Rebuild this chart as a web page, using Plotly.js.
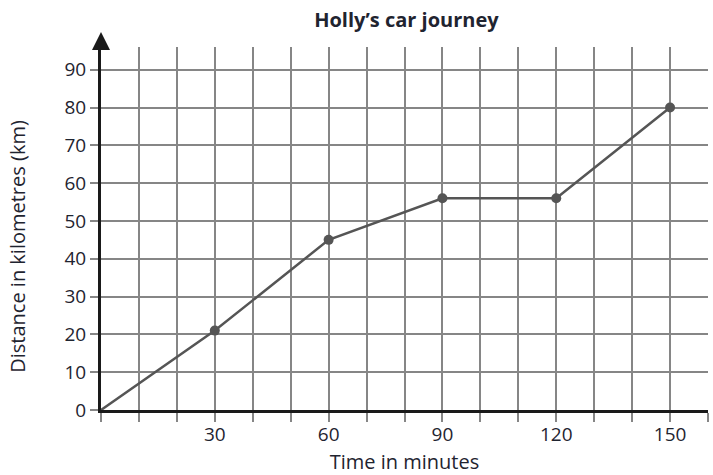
<!DOCTYPE html>
<html>
<head>
<meta charset="utf-8">
<script src="https://cdn.plot.ly/plotly-3.0.1.min.js"></script>
<style>html,body{margin:0;padding:0;background:#fff;}#chart{width:713px;height:475px;}</style>
</head>
<body>
<div id="chart"></div>
<script>
const timeMinutes = [0, 30, 60, 90, 120, 150];
const distanceKm = [0, 21, 45, 56, 56, 80];
const markerTimes = [30, 60, 90, 120, 150];
const markerDistances = [21, 45, 56, 56, 80];
const xTickVals = [0, 10, 20, 30, 40, 50, 60, 70, 80, 90, 100, 110, 120, 130, 140, 150, 160];
const xTickText = ['', '', '', '30', '', '', '60', '', '', '90', '', '', '120', '', '', '150', ''];
const yTickVals = [0, 10, 20, 30, 40, 50, 60, 70, 80, 90];
const yTickText = ['0', '10', '20', '30', '40', '50', '60', '70', '80', '90'];
const yTitle = 'Distance in kilometres (km)';

const textColor = '#1f2430';
const fontFam = 'Open Sans, Noto Sans, sans-serif';

const data = [
  {x: timeMinutes, y: distanceKm, mode: 'lines', line: {color: '#555555', width: 2.5}, hoverinfo: 'skip', cliponaxis: false},
  {x: markerTimes, y: markerDistances, mode: 'markers', marker: {color: '#555555', size: 10}, hoverinfo: 'skip', cliponaxis: false}
];

const layout = {
  width: 713, height: 475,
  margin: {l: 101, r: 5, t: 47, b: 65},
  paper_bgcolor: '#ffffff', plot_bgcolor: '#ffffff',
  showlegend: false,
  font: {family: fontFam, color: textColor, size: 19},
  title: {text: '<b>Holly’s car journey</b>', x: 0.57, xanchor: 'center', y: 0.958, yanchor: 'middle', font: {size: 20, family: fontFam, color: textColor}},
  xaxis: {
    range: [0, 160], tickvals: xTickVals, ticktext: xTickText,
    showgrid: true, gridcolor: '#868686', gridwidth: 2,
    ticks: 'outside', ticklen: 9, tickwidth: 2, tickcolor: '#868686',
    ticklabelstandoff: -4,
    showline: true, linecolor: '#1a1a1a', linewidth: 3,
    zeroline: false, fixedrange: true,
    tickfont: {size: 19, color: textColor},
    title: {text: 'Time in minutes', font: {size: 20, color: textColor}, standoff: 10}
  },
  yaxis: {
    range: [0, 96], tickvals: yTickVals, ticktext: yTickText,
    showgrid: true, gridcolor: '#868686', gridwidth: 2,
    ticks: 'outside', ticklen: 8, tickwidth: 2, tickcolor: '#868686',
    showline: true, linecolor: '#1a1a1a', linewidth: 3,
    zeroline: false, fixedrange: true,
    tickfont: {size: 19, color: textColor}
  },
  annotations: [
    {x: 0, y: 100, ax: 0, ay: 95, xref: 'x', yref: 'y', axref: 'x', ayref: 'y',
     showarrow: true, arrowhead: 2, arrowsize: 1.2, arrowwidth: 3, arrowcolor: '#1a1a1a', text: ''},
    {x: -0.137, y: 0.452, xref: 'paper', yref: 'paper', xanchor: 'center', yanchor: 'middle',
     textangle: -90, showarrow: false, text: yTitle, font: {size: 20, color: textColor, family: fontFam}}
  ]
};

Plotly.newPlot('chart', data, layout, {displayModeBar: false, staticPlot: true});
</script>
</body>
</html>
